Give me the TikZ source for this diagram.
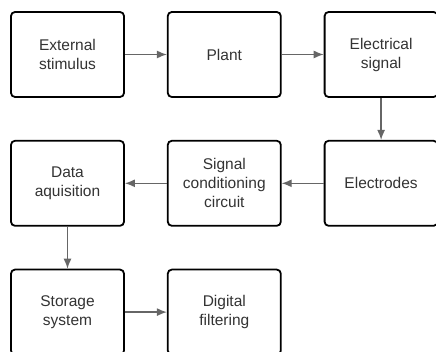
\documentclass[tikz,border=0pt]{standalone}
\usepackage{fontspec}
\setmainfont{Liberation Sans}
\usepackage{tikz}
\usetikzlibrary{arrows.meta,positioning}
\definecolor{txtgray}{HTML}{333333}
\definecolor{arrgray}{HTML}{666666}

\begin{document}
\begin{tikzpicture}[x=1pt,y=-1pt,>={Latex[length=10pt,width=8pt]}]
			\tikzstyle{block}=[draw,line width=1.8pt,rounded corners=4pt,fill=white,minimum width=113pt,minimum height=85pt,align=center,text=txtgray,font=\fontsize{15.5}{19}\selectfont]
			\tikzstyle{flow}=[->,line width=1.3pt,draw=arrgray]

			\useasboundingbox (0,0) rectangle (436,352);

			\node (ext) [block] at (67.5,54.5) {External\\stimulus};
			\node (plant) [block, right=42pt of ext] {Plant};
			\node (elsig) [block, right=42pt of plant] {Electrical\\signal};

			\node (electrodes) [block, below=42pt of elsig] {Electrodes};
			\node (cond) [block, left=42pt of electrodes] {Signal\\conditioning\\circuit};
			\node (daq) [block, left=42pt of cond] {Data\\aquisition};

			\node (store) [block, below=42pt of daq] {Storage\\system};
			\node (filt) [block, right=42pt of store] {Digital\\filtering};

			\draw [flow] (ext) -- (plant);
			\draw [flow] (plant) -- (elsig);
			\draw [flow] (elsig) -- (electrodes);
			\draw [flow] (electrodes) -- (cond);
			\draw [flow] (cond) -- (daq);
			\draw [flow] (daq) -- (store);
			\draw [flow] (store) -- (filt);
		\end{tikzpicture}
\end{document}
